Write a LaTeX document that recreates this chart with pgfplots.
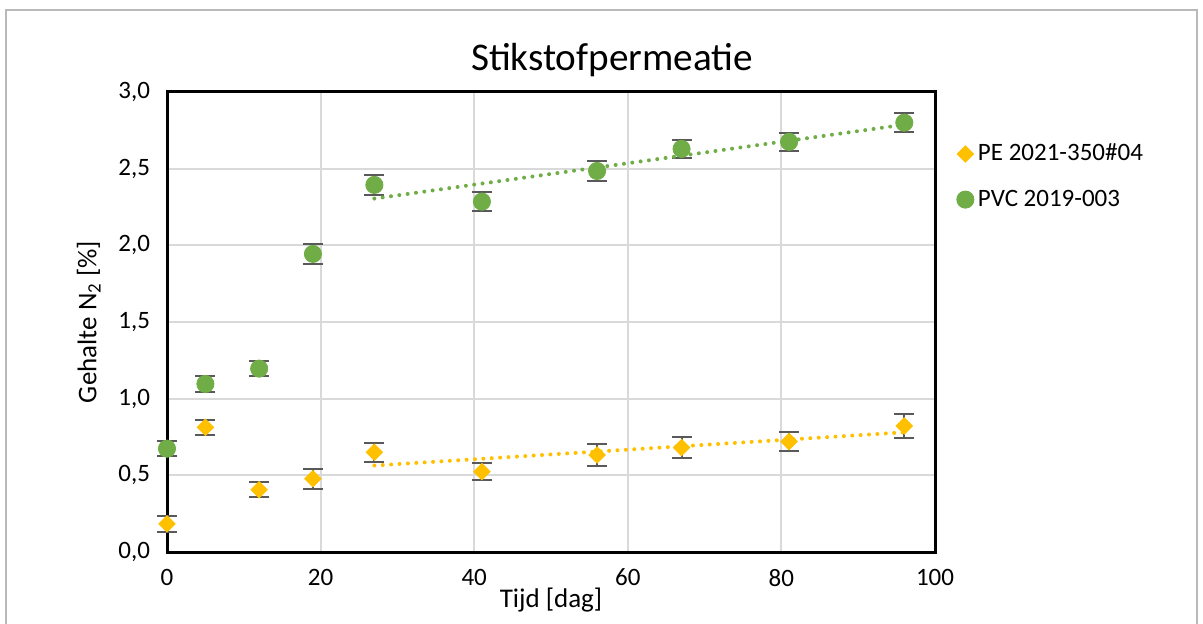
\documentclass[border=0pt]{standalone}
\usepackage{fontspec}
\setmainfont{Carlito}
\usepackage{pgfplots}
\pgfplotsset{compat=1.18}
\definecolor{peyel}{HTML}{FFC000}
\definecolor{pvcgrn}{HTML}{70AD47}
\definecolor{errgr}{HTML}{595959}
\definecolor{gridgr}{HTML}{D9D9D9}

\begin{document}
\begin{tikzpicture}
\useasboundingbox (0,0) rectangle (601.5pt,-312pt);
\draw[gray!55, line width=0.8pt] (3pt,-320pt) -- (3pt,-5pt) -- (598.5pt,-5pt) -- (598.5pt,-320pt);
\node[font=\fontsize{19.6}{22}\selectfont] at (306pt,-30pt) {Stikstofpermeatie};
\begin{axis}[
  at={(83.5pt,-276pt)}, anchor=south west,
  scale only axis, width=384pt, height=230pt,
  xmin=0, xmax=100, ymin=0, ymax=3,
  xtick={0,20,...,100}, ytick={0,0.5,...,3},
  major tick length=0pt,
  grid=major, major grid style={gridgr, line width=1pt},
  axis line style={black, line width=1.5pt},
  clip=false,
  tick label style={font=\fontsize{12.5}{14}\selectfont},
  /pgf/number format/assume math mode=true,
  yticklabel style={/pgf/number format/use comma, /pgf/number format/fixed,
    /pgf/number format/fixed zerofill, /pgf/number format/precision=1, xshift=-5pt},
  xticklabel style={yshift=-5pt},
  xlabel={Tijd [dag]}, ylabel={Gehalte N\textsubscript{2} [\%]},
  label style={font=\fontsize{13.5}{15}\selectfont},
  xlabel style={yshift=6pt},
  ylabel style={yshift=2pt},
  legend style={at={(1.02,0.905)}, anchor=north west, draw=none,
    font=\fontsize{12.5}{14}\selectfont, row sep=9pt,
    legend cell align=left},
  legend image code/.code={\draw[#1] plot coordinates {(0.25cm,0cm)};},
]
\addplot[only marks, mark=square*, mark size=2.9pt, mark options={rotate=45}, color=peyel,
  error bars/.cd, y dir=both, y explicit,
  error mark options={rotate=90, mark size=5pt, errgr, line width=1pt},
  error bar style={errgr, line width=1pt}]
  coordinates {
  (0,0.183) +- (0,0.052)
  (5,0.813) +- (0,0.05)
  (12,0.406) +- (0,0.05)
  (19,0.478) +- (0,0.064)
  (27,0.650) +- (0,0.06)
  (41,0.524) +- (0,0.057)
  (56,0.633) +- (0,0.07)
  (67,0.681) +- (0,0.07)
  (81,0.720) +- (0,0.063)
  (96,0.822) +- (0,0.076)
};
\addlegendentry{PE 2021-350\#04}
\addplot[only marks, mark=*, mark size=4.3pt, color=pvcgrn,
  error bars/.cd, y dir=both, y explicit,
  error mark options={rotate=90, mark size=5pt, errgr, line width=1pt},
  error bar style={errgr, line width=1pt}]
  coordinates {
  (0,0.674) +- (0,0.05)
  (5,1.096) +- (0,0.05)
  (12,1.196) +- (0,0.05)
  (19,1.944) +- (0,0.064)
  (27,2.394) +- (0,0.063)
  (41,2.285) +- (0,0.064)
  (56,2.485) +- (0,0.064)
  (67,2.629) +- (0,0.06)
  (81,2.675) +- (0,0.06)
  (96,2.800) +- (0,0.06)
};
\addlegendentry{PVC 2019-003}
\addplot[forget plot, peyel, line width=2pt, line cap=round, dash pattern=on 0pt off 4.2pt]
  coordinates {(27,0.564) (96,0.7805)};
\addplot[forget plot, pvcgrn, line width=2pt, line cap=round, dash pattern=on 0pt off 4.2pt]
  coordinates {(27,2.305) (96,2.787)};
\end{axis}
\end{tikzpicture}
\end{document}
